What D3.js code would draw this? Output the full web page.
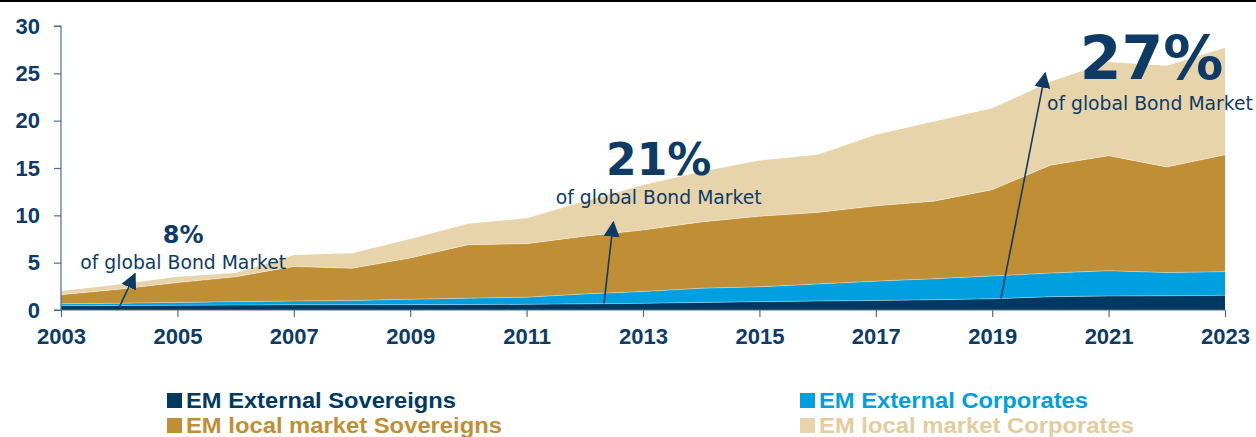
<!DOCTYPE html>
<html>
<head>
<meta charset="utf-8">
<script src="https://cdn.jsdelivr.net/npm/d3@7"></script>
<style>
  body { margin: 0; background: #fff; }
  svg { display: block; }
</style>
</head>
<body>
<svg class="mysvg"></svg>
<script>
// data (USD trn)
const years = d3.range(2003, 2024);
const extSovereigns = [0.45, 0.48, 0.5, 0.52, 0.55, 0.55, 0.56, 0.58, 0.6, 0.65, 0.7, 0.8, 0.88, 0.95, 1.0, 1.08, 1.18, 1.4, 1.48, 1.5, 1.55];
const extCorporates = [0.2, 0.24, 0.3, 0.36, 0.4, 0.45, 0.57, 0.67, 0.75, 1.05, 1.25, 1.5, 1.57, 1.8, 2.05, 2.22, 2.42, 2.5, 2.67, 2.45, 2.5];
const localSovereigns = [0.95, 1.48, 2.1, 2.62, 3.65, 3.4, 4.37, 5.65, 5.65, 6.1, 6.5, 7.0, 7.45, 7.55, 7.95, 8.2, 9.1, 11.4, 12.15, 11.15, 12.35];
const localCorporates = [0.4, 0.5, 0.6, 0.4, 1.2, 1.6, 2.0, 2.2, 2.7, 3.7, 4.75, 5.3, 5.9, 6.1, 7.5, 8.4, 8.6, 8.8, 9.9, 10.7, 11.3];

const yTicks = [0, 5, 10, 15, 20, 25, 30];
const xTicks = d3.range(2003, 2024, 2);

const seriesNames = ["EM External Sovereigns", "EM External Corporates", "EM local market Sovereigns", "EM local market Corporates"];
const seriesKeys = ["extSov", "extCorp", "localSov", "localCorp"];

// callouts: share of global bond market
const callouts = [
  { pct: "8%", size: 24, year: 2005.1, value: 7.07, subYear: 2005.1, subValue: 4.33, from: [2003.98, 0], to: [2004.27, 3.8] },
  { pct: "21%", size: 44, year: 2013.27, value: 14.26, subYear: 2013.27, subValue: 11.2, from: [2012.33, 0.7], to: [2012.49, 9.26] },
  { pct: "27%", size: 60, year: 2021.74, value: 24.39, subYear: 2021.71, subValue: 21.1, from: [2019.15, 1.23], to: [2019.91, 25.0] },
];

const width = 1256, height = 437;
const navy = "#0d3b66";
const colors = {
  extSov: "#003a63",
  extCorp: "#009fdf",
  localSov: "#c08e35",
  localCorp: "#e8d4ab",
};
const legendText = {
  extSov: "#003a63",
  extCorp: "#00a0e0",
  localSov: "#c08e35",
  localCorp: "#e4cc9c",
};

const svg = d3.select(".mysvg").attr("width", width).attr("height", height);

// top rule
svg.append("line")
  .attr("x1", 0).attr("x2", width)
  .attr("y1", 1).attr("y2", 1)
  .attr("stroke", "#000").attr("stroke-width", 2);

const xScale = d3.scaleLinear().domain([2003, 2023]).range([61, 1225]);
const yScale = d3.scaleLinear().domain([0, 30]).range([310, 26]);

const table = years.map((yr, i) => ({
  year: yr,
  extSov: extSovereigns[i],
  extCorp: extCorporates[i],
  localSov: localSovereigns[i],
  localCorp: localCorporates[i],
}));

const stacked = d3.stack().keys(seriesKeys)(table);

const area = d3.area()
  .x((d) => xScale(d.data.year))
  .y0((d) => yScale(d[0]))
  .y1((d) => yScale(d[1]));

const topLine = d3.line()
  .x((d) => xScale(d.data.year))
  .y((d) => yScale(d[1]));

svg.append("g")
  .selectAll("path")
  .data(stacked)
  .enter()
  .append("path")
  .attr("d", area)
  .attr("fill", (d) => colors[d.key]);

// faint light seams between the layers
svg.append("g")
  .selectAll("path")
  .data(stacked.slice(0, 3))
  .enter()
  .append("path")
  .attr("d", topLine)
  .attr("fill", "none")
  .attr("stroke", "#ffffff")
  .attr("stroke-opacity", 0.45)
  .attr("stroke-width", 0.8);

// axes
const axisColor = "#4d6f8d";
const fontAxis = "'Liberation Sans', Arial, sans-serif";

const yAxis = svg.append("g")
  .attr("transform", `translate(${xScale(2003)},0)`)
  .call(d3.axisLeft(yScale).tickValues(yTicks).tickSize(7).tickPadding(14).tickFormat(d3.format("d")));
yAxis.select(".domain").attr("stroke", axisColor).attr("stroke-width", 1.2).attr("d", `M-7,${yScale(30)}H0V${yScale(0)}`);
yAxis.selectAll(".tick line").attr("stroke", axisColor).attr("stroke-width", 1.2);
yAxis.selectAll(".tick text")
  .attr("fill", navy)
  .style("font-family", fontAxis)
  .style("font-weight", "bold")
  .style("font-size", "22px");

const xAxis = svg.append("g")
  .attr("transform", `translate(0,${yScale(0)})`)
  .call(d3.axisBottom(xScale).tickValues(xTicks).tickSize(7).tickPadding(11).tickFormat(d3.format("d")));
xAxis.select(".domain").attr("stroke", axisColor).attr("stroke-width", 1.2).attr("d", `M${xScale(2003) - 7},0H${xScale(2023)}`);
xAxis.selectAll(".tick line").attr("stroke", axisColor).attr("stroke-width", 1.2);
xAxis.selectAll(".tick text")
  .attr("fill", navy)
  .style("font-family", fontAxis)
  .style("font-weight", "bold")
  .style("font-size", "22px");

// callout arrows
svg.append("defs")
  .append("marker")
  .attr("id", "head")
  .attr("viewBox", "0 0 10 10")
  .attr("refX", 9)
  .attr("refY", 5)
  .attr("markerWidth", 10)
  .attr("markerHeight", 11)
  .attr("markerUnits", "strokeWidth")
  .attr("orient", "auto")
  .append("path")
  .attr("d", "M0,0L10,5L0,10Z")
  .attr("fill", navy);

const ann = svg.append("g").attr("class", "callouts");

ann.selectAll("line")
  .data(callouts)
  .enter()
  .append("line")
  .attr("x1", (d) => xScale(d.from[0]))
  .attr("y1", (d) => yScale(d.from[1]))
  .attr("x2", (d) => xScale(d.to[0]))
  .attr("y2", (d) => yScale(d.to[1]))
  .attr("stroke", navy)
  .attr("stroke-width", 1.6)
  .attr("marker-end", "url(#head)");

ann.selectAll("text.pct")
  .data(callouts)
  .enter()
  .append("text")
  .attr("class", "pct")
  .attr("x", (d) => xScale(d.year))
  .attr("y", (d) => yScale(d.value))
  .attr("text-anchor", "middle")
  .attr("fill", navy)
  .style("font-family", "'DejaVu Sans', Verdana, sans-serif")
  .style("font-weight", "bold")
  .style("font-size", (d) => d.size + "px")
  .text((d) => d.pct);

ann.selectAll("text.sub")
  .data(callouts)
  .enter()
  .append("text")
  .attr("class", "sub")
  .attr("x", (d) => xScale(d.subYear))
  .attr("y", (d) => yScale(d.subValue))
  .attr("text-anchor", "middle")
  .attr("fill", navy)
  .attr("textLength", 206)
  .attr("lengthAdjust", "spacingAndGlyphs")
  .style("font-family", "'DejaVu Sans', Verdana, sans-serif")
  .style("font-size", "19px")
  .text("of global Bond Market");

// legend, two columns
const legendData = seriesKeys.map((k, i) => ({
  key: k,
  name: seriesNames[i],
  col: i % 2,
  row: Math.floor(i / 2),
}));
const colX = [167, 800];
const rowY = [393, 418];
const textLen = { extSov: 270, extCorp: 269, localSov: 316, localCorp: 315 };

const legend = svg.append("g").attr("class", "legend");

legend.selectAll("rect")
  .data(legendData)
  .enter()
  .append("rect")
  .attr("x", (d) => colX[d.col])
  .attr("y", (d) => rowY[d.row])
  .attr("width", 15)
  .attr("height", 15)
  .attr("fill", (d) => colors[d.key]);

legend.selectAll("text")
  .data(legendData)
  .enter()
  .append("text")
  .attr("x", (d) => colX[d.col] + 19)
  .attr("y", (d) => rowY[d.row] + 15)
  .attr("fill", (d) => legendText[d.key])
  .attr("textLength", (d) => textLen[d.key])
  .attr("lengthAdjust", "spacingAndGlyphs")
  .style("font-family", fontAxis)
  .style("font-weight", "bold")
  .style("font-size", "22.5px")
  .text((d) => d.name);
</script>
</body>
</html>
